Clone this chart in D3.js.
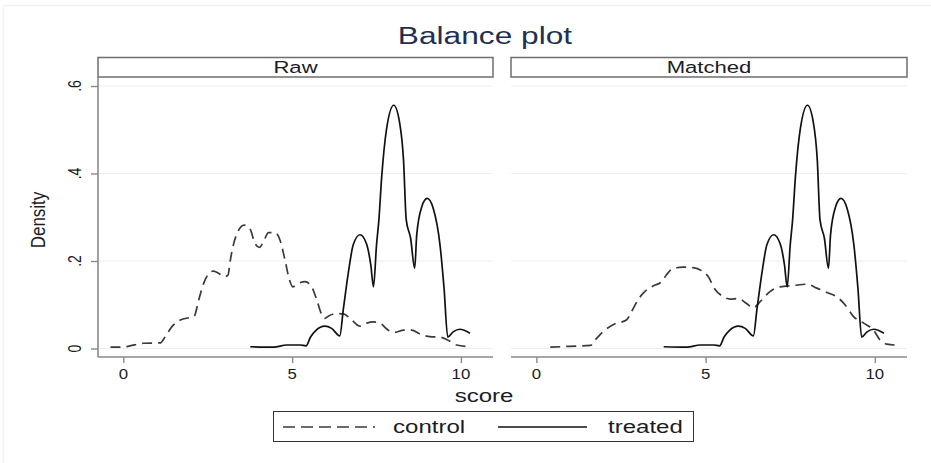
<!DOCTYPE html>
<html>
<head>
<meta charset="utf-8">
<script src="https://cdn.jsdelivr.net/npm/d3@7"></script>
<style>
  html, body { margin: 0; padding: 0; background: #ffffff; }
  svg { display: block; }
</style>
</head>
<body>
<div id="chart"></div>
<script>
// ---------------- data ----------------
const panels = ["Raw", "Matched"];
const seriesNames = ["control", "treated"];
const xTicks = [0, 5, 10];
const yTicks = [0, 0.2, 0.4, 0.6];
const yTickLabels = ["0", ".2", ".4", ".6"];

// [score, density]
const controlRaw = [
  [-0.38,0.003],[0.0,0.003],[0.2,0.006],[0.6,0.012],[1.1,0.013],[1.24,0.027],[1.44,0.05],
  [1.69,0.065],[1.98,0.071],[2.1,0.074],[2.23,0.11],[2.38,0.149],[2.52,0.17],[2.67,0.177],
  [2.82,0.172],[2.99,0.164],[3.1,0.168],[3.17,0.202],[3.26,0.237],[3.38,0.265],[3.58,0.282],
  [3.76,0.272],[3.9,0.24],[4.03,0.231],[4.15,0.244],[4.3,0.265],[4.5,0.265],[4.64,0.248],
  [4.79,0.202],[4.92,0.157],[5.02,0.141],[5.19,0.149],[5.38,0.153],[5.58,0.141],[5.73,0.111],
  [5.88,0.077],[5.97,0.069],[6.07,0.074],[6.32,0.08],[6.52,0.079],[6.77,0.065],[7.01,0.051],
  [7.21,0.058],[7.4,0.061],[7.6,0.058],[7.85,0.042],[8.05,0.037],[8.3,0.042],[8.54,0.042],
  [8.79,0.033],[9.08,0.027],[9.38,0.026],[9.62,0.019],[9.87,0.008],[10.27,0.004]
];

const controlMatched = [
  [0.41,0.003],[0.98,0.005],[1.6,0.007],[1.72,0.018],[1.96,0.038],[2.31,0.056],[2.66,0.065],
  [2.81,0.084],[3.0,0.111],[3.2,0.13],[3.45,0.143],[3.69,0.152],[3.84,0.168],[4.04,0.183],
  [4.33,0.186],[4.63,0.185],[4.88,0.178],[5.08,0.164],[5.27,0.136],[5.47,0.121],[5.72,0.113],
  [5.96,0.114],[6.21,0.103],[6.41,0.093],[6.61,0.107],[6.9,0.13],[7.2,0.141],[7.59,0.144],
  [7.99,0.147],[8.29,0.138],[8.58,0.128],[8.88,0.118],[9.13,0.099],[9.37,0.073],[9.67,0.058],
  [9.96,0.042],[10.16,0.019],[10.36,0.01],[10.6,0.008]
];

const treated = [
  [3.76,0.004],[4.45,0.003],[4.84,0.008],[5.24,0.008],[5.41,0.006],[5.55,0.027],[5.7,0.041],
  [5.97,0.051],[6.17,0.046],[6.41,0.029],[6.52,0.092],[6.67,0.176],[6.81,0.237],[7.01,0.26],
  [7.2,0.24],[7.33,0.191],[7.41,0.141],[7.5,0.237],[7.57,0.294],[7.65,0.389],[7.8,0.503],
  [8.01,0.556],[8.18,0.518],[8.3,0.43],[8.38,0.294],[8.51,0.252],[8.63,0.183],[8.69,0.259],
  [8.84,0.324],[9.0,0.343],[9.18,0.32],[9.38,0.237],[9.5,0.138],[9.61,0.026],[9.77,0.038],
  [9.97,0.044],[10.27,0.035]
];

const panelData = [
  { name: panels[0], control: controlRaw, treated: treated },
  { name: panels[1], control: controlMatched, treated: treated }
];

// ---------------- layout ----------------
const W = 931, H = 463;
const FONT = "'Liberation Sans', Arial, Helvetica, sans-serif";
const SX = 1.3; // horizontal text stretch seen in the reference
const panelX = [[98, 493], [511, 907]];
const plotTop = 77, plotBottom = 357, headerTop = 57;
const xDomain = [-0.75, 10.95];
const yDomain = [-0.0194, 0.6206];

const svg = d3.select("#chart").append("svg")
  .attr("width", W).attr("height", H)
  .style("font-family", FONT);

svg.append("rect").attr("x", 0).attr("y", 0).attr("width", W).attr("height", H).attr("fill", "#fff");
svg.append("rect").attr("x", 3.5).attr("y", 5.5).attr("width", W).attr("height", H)
  .attr("fill", "none").attr("stroke", "#eef3f3").attr("stroke-width", 1.5);

function txt(g, x, y, s, size, o = {}) {
  const sx = o.sx == null ? SX : o.sx;
  return g.append("text")
    .attr("transform", `translate(${x},${y}) scale(${sx},1)` + (o.rot ? ` rotate(${o.rot})` : ""))
    .attr("text-anchor", o.anchor || "middle")
    .attr("font-size", size)
    .attr("fill", o.fill || "#1c1c24")
    .text(s);
}

// title
txt(svg, 485, 44, "Balance plot", 24, { sx: 1.32, fill: "#1f3050" });

const y = d3.scaleLinear().domain(yDomain).range([plotBottom, plotTop]);

const lineStyle = {
  control: { dash: "10,6", color: "#3a3a3a" },
  treated: { dash: null, color: "#111111" }
};

panelData.forEach((p, i) => {
  const [x0, x1] = panelX[i];
  const x = d3.scaleLinear().domain(xDomain).range([x0, x1]);
  const g = svg.append("g");

  // header box
  g.append("rect").attr("x", x0).attr("y", headerTop + 0.5)
    .attr("width", x1 - x0).attr("height", plotTop - headerTop - 0.5)
    .attr("fill", "#fff").attr("stroke", "#6e6e6e").attr("stroke-width", 1.5);
  txt(g, (x0 + x1) / 2, 73, p.name, 17);

  // gridlines
  g.selectAll("line.grid").data(yTicks).enter().append("line")
    .attr("x1", x0).attr("x2", x1)
    .attr("y1", d => y(d)).attr("y2", d => y(d))
    .attr("stroke", "#e8f0f1").attr("stroke-width", 1.2);

  // x axis
  const xAxis = g.append("g").attr("transform", `translate(0,${plotBottom})`)
    .call(d3.axisBottom(x).tickValues(xTicks).tickSize(6).tickFormat(""));
  xAxis.select(".domain").attr("stroke", "#8a8a8a").attr("stroke-width", 1.6)
    .attr("d", `M${x0},0H${x1}`);
  xAxis.selectAll(".tick line").attr("stroke", "#8a8a8a").attr("stroke-width", 1.4);
  xTicks.forEach(t => txt(g, x(t), 379, String(t), 14, { sx: 1.2 }));

  // y axis (only left panel)
  if (i === 0) {
    const yAxis = g.append("g").attr("transform", `translate(${x0},0)`)
      .call(d3.axisLeft(y).tickValues(yTicks).tickSize(7).tickFormat(""));
    yAxis.select(".domain").attr("stroke", "#8a8a8a").attr("stroke-width", 1.6)
      .attr("d", `M0,${plotTop}V${plotBottom}`);
    yAxis.selectAll(".tick line").attr("stroke", "#8a8a8a").attr("stroke-width", 1.4);
    yTicks.forEach((t, k) => txt(g, 81, y(t), yTickLabels[k], 14, { sx: 1.25, rot: -90 }));
  }

  // curves
  seriesNames.forEach(s => {
    const line = d3.line().x(d => x(d[0])).y(d => y(d[1])).curve(d3.curveMonotoneX);
    g.append("path").datum(p[s]).attr("d", line)
      .attr("fill", "none").attr("stroke", lineStyle[s].color)
      .attr("stroke-width", 1.7)
      .attr("stroke-dasharray", lineStyle[s].dash);
  });
});

// axis titles
txt(svg, 45, 220, "Density", 17, { sx: 1.2, rot: -90 });
txt(svg, 484, 402, "score", 18.5);

// legend
const lg = svg.append("g");
lg.append("rect").attr("x", 273.5).attr("y", 411.5).attr("width", 420).attr("height", 30)
  .attr("fill", "#fff").attr("stroke", "#333").attr("stroke-width", 1);
lg.append("line").attr("x1", 283).attr("x2", 375).attr("y1", 427).attr("y2", 427)
  .attr("stroke", lineStyle.control.color).attr("stroke-width", 1.5)
  .attr("stroke-dasharray", "12,6");
txt(lg, 393, 433, seriesNames[0], 18.5, { anchor: "start" });
lg.append("line").attr("x1", 498).attr("x2", 587).attr("y1", 427).attr("y2", 427)
  .attr("stroke", lineStyle.treated.color).attr("stroke-width", 1.5);
txt(lg, 608, 433, seriesNames[1], 18.5, { anchor: "start" });
</script>
</body>
</html>
